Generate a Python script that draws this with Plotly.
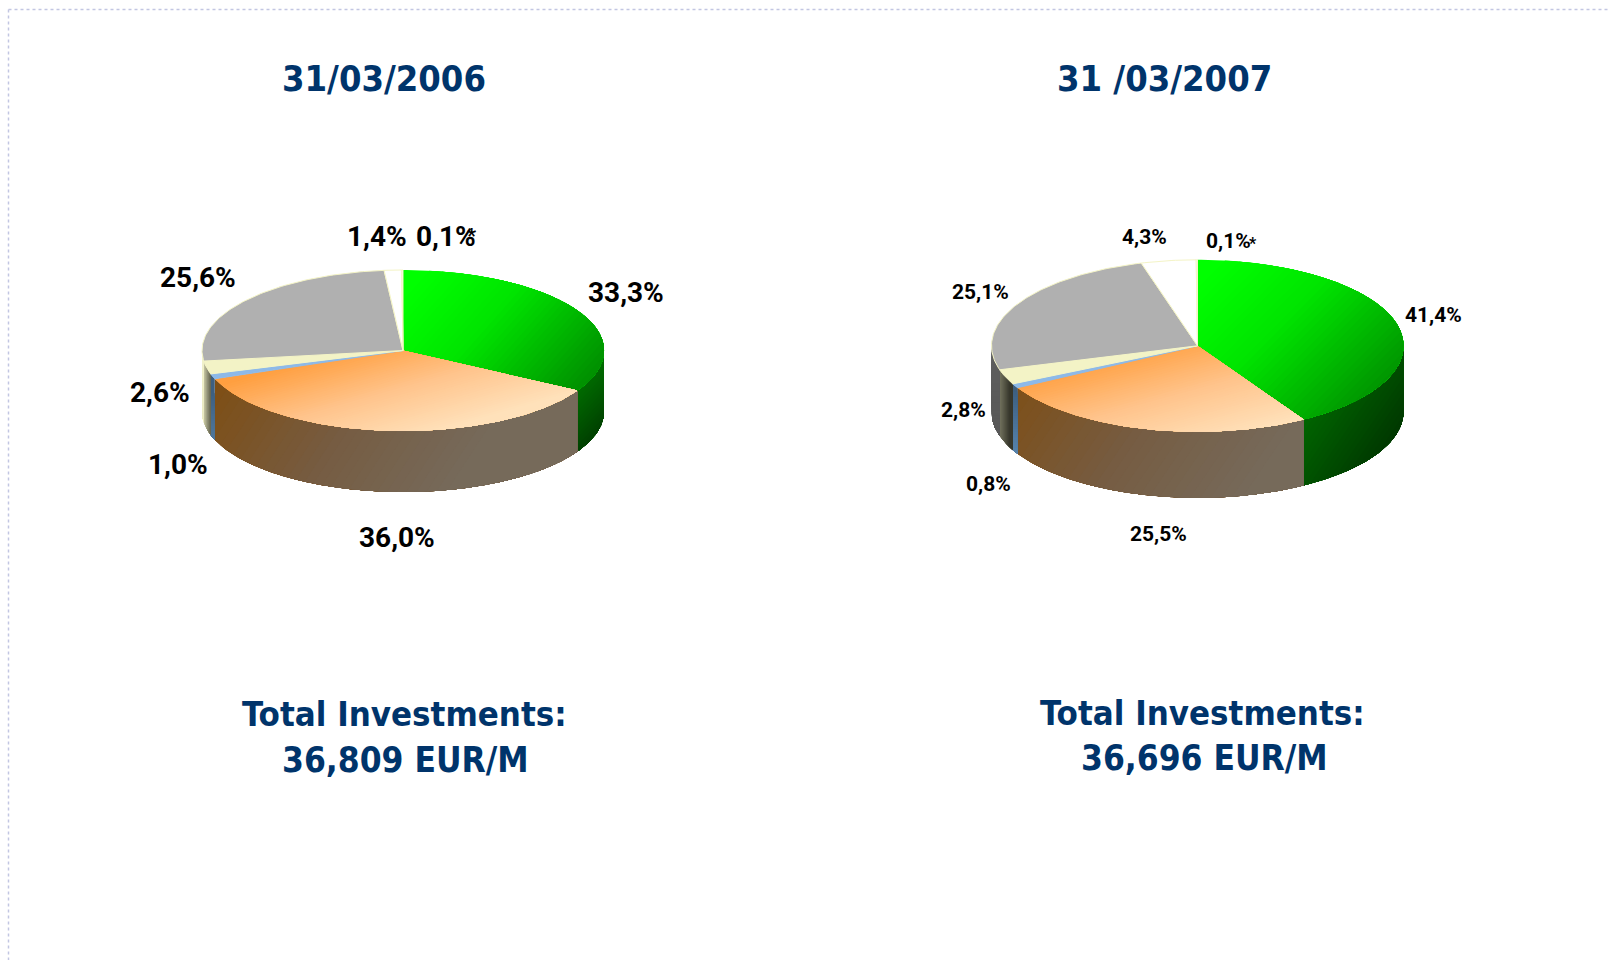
import math
import plotly.graph_objects as go

# ---------- data ----------
slices = ["Green", "Orange", "Blue", "Cream", "Grey", "White", "Other"]
values_2006 = [33.3, 36.0, 1.0, 2.6, 25.6, 1.4, 0.1]
values_2007 = [41.4, 25.5, 0.8, 2.8, 25.1, 4.3, 0.1]
title_2006 = "31/03/2006"
title_2007 = "31 /03/2007"
total_2006 = "36,809 EUR/M"
total_2007 = "36,696 EUR/M"
total_caption = "Total Investments:"

# ---------- geometry (pixel-like axis units) ----------
W, H = 1609, 960
pie_a = dict(cx=403, cy=350.5, rx=201, ry=80.5, depth=61)
pie_b = dict(cx=1197.5, cy=345.8, rx=206, ry=86, depth=66)
# label centres for each slice
label_pos_a = [(626, 292), (397, 537), (177.5, 464), (160, 392), (198, 277), (376.6, 236), (446, 236)]
label_pos_b = [(1433.5, 315), (1158.5, 534), (988, 484), (963.6, 410), (980, 292), (1144, 237), (1228, 241)]
star_a = (471, 236)
star_b = (1253, 243)

NAVY = "#00346B"
OUTLINE = "#F4F4C6"
TITLE_FONT = "DejaVu Sans Condensed, DejaVu Sans"
LABEL_FONT = "Roboto"

# gradient specs in pie units (x in rx, y in ry, relative to centre)
green_stops = ["#00FF00", "#00E400", "#00A800", "#006C00"]
orange_stops = ["#FF9F40", "#FFC48C", "#FFE2BC"]
top_style_a = {
    "Green": ((0.1, -1.0), (1.0, 1.0), green_stops),
    "Orange": ((-0.875, 0.39), (-0.73, 1.66), orange_stops),
}
top_style_b = {
    "Green": ((0.1, -1.0), (1.0, 1.15), green_stops),
    "Orange": ((-0.875, 0.39), (-0.73, 1.66), orange_stops),
}
top_flat = {"Blue": "#8DB9E8", "Cream": "#F3F3C6", "Grey": "#B0B0B0", "White": "#FFFFFF", "Other": "#FFFFFF"}
side_style_a = {
    "Green": ((0.70, 0.5), (1.0, 1.2), ["#008000", "#005A00", "#003000"]),
    "Orange": ((-0.9, 0.2), (0.2, 2.0), ["#7E4E14", "#765C42", "#766B5C"]),
    "Blue": ((-1, 0.5), (-1, 1.5), ["#3D5F80", "#5C88B0"]),
    "Cream": ((-1, 0.3), (-0.95, 0.3), ["#E4E4BC", "#4C4C3C"]),
    "Grey": ((-1, 0), (-1, 1), ["#F2F2CC", "#E8E8C0"]),
}
side_style_b = {
    "Green": ((0.45, 0.7), (1.0, 1.6), ["#006E00", "#004A00", "#002400"]),
    "Orange": ((-0.9, 0.2), (0.2, 2.0), ["#7E4E14", "#765C42", "#766B5C"]),
    "Blue": ((-1, 0.5), (-1, 1.5), ["#3D5F80", "#6090BC"]),
    "Cream": ((-0.98, 0.3), (-0.91, 0.3), ["#8A8A72", "#34342A"]),
    "Grey": ((-1, 0), (-1, 1), ["#5E5E5E", "#585858"]),
}


def hex2rgb(h):
    return tuple(int(h[i:i + 2], 16) for i in (1, 3, 5))


def ramp(stops, t):
    t = min(max(t, 0.0), 1.0) * (len(stops) - 1)
    i = min(int(t), len(stops) - 2)
    f = t - i
    a, b = hex2rgb(stops[i]), hex2rgb(stops[i + 1])
    return "rgb(%d,%d,%d)" % tuple(round(a[k] + (b[k] - a[k]) * f) for k in range(3))


def clip_from(poly, p0, d, t0):
    """Keep the part of poly whose gradient parameter is at least t0."""
    dd = d[0] ** 2 + d[1] ** 2
    par = lambda p: ((p[0] - p0[0]) * d[0] + (p[1] - p0[1]) * d[1]) / dd
    out = []
    for i, p in enumerate(poly):
        q = poly[(i + 1) % len(poly)]
        tp, tq = par(p), par(q)
        if tp >= t0:
            out.append(p)
        if (tp >= t0) != (tq >= t0):
            f = (t0 - tp) / (tq - tp)
            out.append((p[0] + (q[0] - p[0]) * f, p[1] + (q[1] - p[1]) * f))
    return out


def add_poly(fig, poly, color, line=None, width=0):
    xs = [p[0] for p in poly] + [poly[0][0]]
    ys = [p[1] for p in poly] + [poly[0][1]]
    fig.add_trace(go.Scatter(
        x=xs, y=ys, mode="lines", fill="toself", fillcolor=color,
        line=dict(color=line or color, width=width),
        hoverinfo="skip", showlegend=False))


def add_gradient(fig, poly, pie, spec, bands=48):
    a, b, stops = spec
    p0 = (pie["cx"] + a[0] * pie["rx"], pie["cy"] + a[1] * pie["ry"])
    p1 = (pie["cx"] + b[0] * pie["rx"], pie["cy"] + b[1] * pie["ry"])
    d = (p1[0] - p0[0], p1[1] - p0[1])
    add_poly(fig, poly, ramp(stops, 0))
    for i in range(1, bands):
        t = i / bands
        part = clip_from(poly, p0, d, t)
        if len(part) >= 3:
            add_poly(fig, part, ramp(stops, t))


def arc(pie, a0, a1, dy=0.0):
    n = max(2, int(abs(a1 - a0) / 1.0) + 2)
    pts = []
    for i in range(n):
        th = math.radians(a0 + (a1 - a0) * i / (n - 1))
        pts.append((pie["cx"] + pie["rx"] * math.sin(th),
                    pie["cy"] - pie["ry"] * math.cos(th) + dy))
    return pts


def draw_pie(fig, values, pie, side_style, top_style):
    total = sum(values)
    ranges, start = [], 0.0
    for v in values:
        ranges.append((start, start + 360.0 * v / total))
        start += 360.0 * v / total
    # side walls
    for name, (a0, a1) in zip(slices, ranges):
        lo, hi = max(a0, 90.0), min(a1, 270.0)
        if hi <= lo or name not in side_style:
            continue
        poly = arc(pie, lo, hi) + arc(pie, hi, lo, pie["depth"])
        add_gradient(fig, poly, pie, side_style[name], bands=32)
    # top faces
    centre = (pie["cx"], pie["cy"])
    for name, (a0, a1) in zip(slices, ranges):
        poly = [centre] + arc(pie, a0, a1)
        if name in top_style:
            add_gradient(fig, poly, pie, top_style[name])
        else:
            add_poly(fig, poly, top_flat[name],
                     line=OUTLINE if name != "Blue" else top_flat[name], width=1)


def label_text(v):
    return f"{v:.1f}".replace(".", ",") + "%"


fig = go.Figure()
draw_pie(fig, values_2006, pie_a, side_style_a, top_style_a)
draw_pie(fig, values_2007, pie_b, side_style_b, top_style_b)


def note(x, y, text, size, family, color="#000000"):
    fig.add_annotation(x=x, y=y, text=f"<b>{text}</b>", showarrow=False,
                       xanchor="center", yanchor="middle",
                       font=dict(size=size, family=family, color=color))


for v, (x, y) in zip(values_2006, label_pos_a):
    note(x, y, label_text(v), 28, LABEL_FONT)
note(*star_a, "*", 20, LABEL_FONT)
for v, (x, y) in zip(values_2007, label_pos_b):
    note(x, y, label_text(v), 21, LABEL_FONT)
note(*star_b, "*", 16, LABEL_FONT)

note(384, 78, title_2006, 36, TITLE_FONT, NAVY)
note(1164, 78, title_2007, 36, TITLE_FONT, NAVY)
note(404, 714, total_caption, 34.5, TITLE_FONT, NAVY)
note(405, 759.5, total_2006, 35, TITLE_FONT, NAVY)
note(1202, 713, total_caption, 34.5, TITLE_FONT, NAVY)
note(1204, 758, total_2007, 35, TITLE_FONT, NAVY)

frame = dict(color="#C2C6E2", width=1.5, dash="dot")
fig.add_shape(type="line", x0=8.5, x1=8.5, y0=9.5, y1=H, line=frame)
fig.add_shape(type="line", x0=8.5, x1=W, y0=9.5, y1=9.5, line=frame)

fig.update_layout(
    width=W, height=H, margin=dict(l=0, r=0, t=0, b=0),
    paper_bgcolor="white", plot_bgcolor="white", showlegend=False,
    xaxis=dict(range=[0, W], visible=False, fixedrange=True),
    yaxis=dict(range=[H, 0], visible=False, fixedrange=True),
)
fig.write_html("out.html", config=dict(displayModeBar=False),
               post_script="document.body.style.margin='0';")
